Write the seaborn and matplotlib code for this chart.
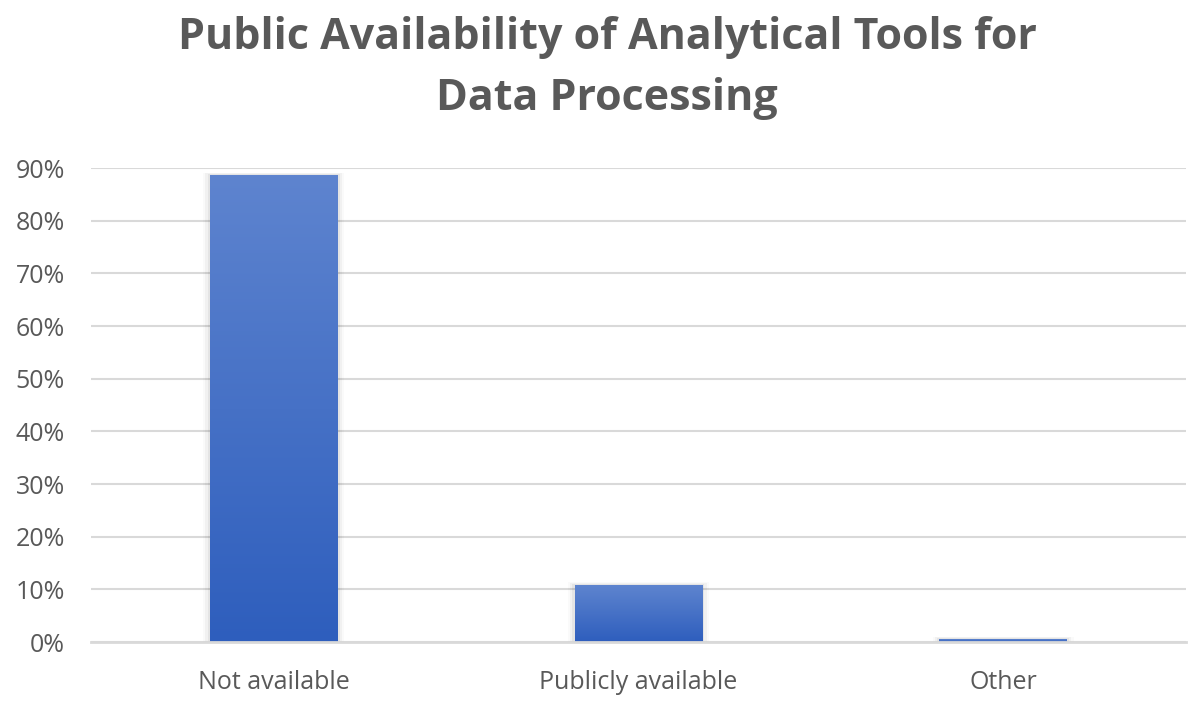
import numpy as np
import pandas as pd
import matplotlib
matplotlib.use("Agg")
import matplotlib.pyplot as plt
import seaborn as sns
from matplotlib.ticker import PercentFormatter
from matplotlib.colors import LinearSegmentedColormap

# ------------------------------------------------------- #
#                          DATOS                          #
# ------------------------------------------------------- #
categorias = ["Not available", "Publicly available", "Other"]
valores = [0.886, 0.108, 0.005]
titulo = "Public Availability of Analytical Tools for\nData Processing"

df = pd.DataFrame({"categoria": categorias, "valor": valores})

sns.set_theme(style="white")
plt.rcParams["font.family"] = ["Open Sans", "DejaVu Sans"]

gris = "#595959"
fig = plt.figure(figsize=(12, 7.08), dpi=100)
ax = fig.add_axes([0.076, 0.0932, 0.912, 0.6695])

sns.barplot(data=df, x="categoria", y="valor", width=0.35,
            color="#4472C4", linewidth=0, ax=ax, zorder=3)

# degradado vertical en cada barra
cmap = LinearSegmentedColormap.from_list("azul", ["#2E5EBD", "#5E84CF"])
grad = np.linspace(0, 1, 256).reshape(-1, 1)
for barra in ax.patches:
    x0, y0 = barra.get_x(), barra.get_y()
    w, h = barra.get_width(), barra.get_height()
    # sombra suave
    for i, a in enumerate([0.05, 0.035, 0.02]):
        d = 0.006 * (i + 1)
        ax.add_patch(plt.Rectangle((x0 - d, y0), w + 2 * d, h + d * 0.3,
                                   color="black", alpha=a, lw=0, zorder=2))
    img = ax.imshow(grad, extent=[x0, x0 + w, y0, y0 + h], origin="lower",
                    cmap=cmap, aspect="auto", zorder=4)
    img.set_clip_path(barra)

ax.set_xlim(-0.5, 2.5)
ax.set_ylim(0, 0.9)
ax.set_yticks(np.arange(0, 0.91, 0.1))
ax.yaxis.set_major_formatter(PercentFormatter(1.0, decimals=0))
ax.grid(axis="y", color="#D9D9D9", lw=1.5, zorder=0)
ax.set_axisbelow(True)
for s in ["top", "right", "left"]:
    ax.spines[s].set_visible(False)
ax.spines["bottom"].set_color("#D9D9D9")
ax.spines["bottom"].set_linewidth(2)
ax.spines["bottom"].set_zorder(5)

ax.tick_params(axis="both", length=0, labelsize=18, labelcolor=gris)
ax.tick_params(axis="y", pad=19)
ax.tick_params(axis="x", pad=20)
ax.set_xlabel("")
ax.set_ylabel("")

fig.text(0.506, 0.978, titulo, ha="center", va="top", fontsize=31,
         fontweight="bold", color=gris, linespacing=1.56)

fig.savefig("out.png", dpi=100)
